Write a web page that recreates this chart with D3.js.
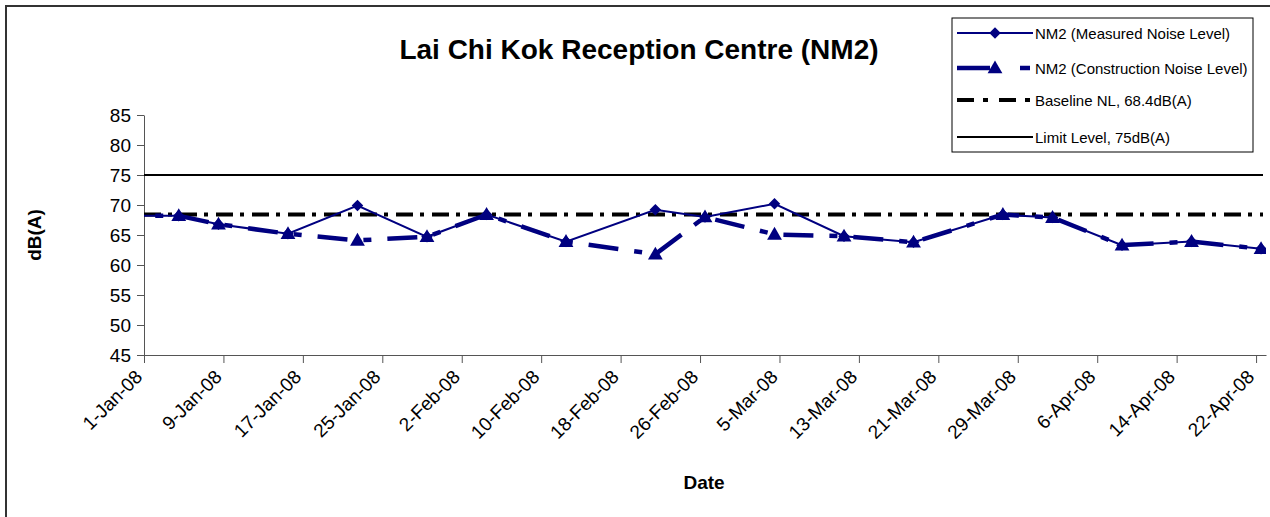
<!DOCTYPE html>
<html>
<head>
<meta charset="utf-8">
<script src="https://cdn.jsdelivr.net/npm/d3@7"></script>
<style>
  body { margin: 0; background: #fff; }
  svg { display: block; font-family: "Liberation Sans", Arial, sans-serif; }
  .axis path, .axis line { stroke: #555; }
  .axis text { fill: #000; }
</style>
</head>
<body>
<svg id="chart"></svg>
<script>
// sample dates (first one sits just before the axis start, as in the source sheet)
const sampleDates = ["28-Dec-07", "4-Jan-08", "8-Jan-08", "15-Jan-08", "22-Jan-08", "29-Jan-08",
  "4-Feb-08", "12-Feb-08", "21-Feb-08", "26-Feb-08", "4-Mar-08", "11-Mar-08", "18-Mar-08",
  "27-Mar-08", "1-Apr-08", "8-Apr-08", "15-Apr-08", "22-Apr-08"];
const measured = [68.2, 68.2, 66.8, 65.2, 69.9, 64.7, 68.4, 63.9, 69.2, 68.0, 70.2, 64.8, 63.8,
  68.4, 67.9, 63.3, 63.9, 62.7];
const construction = [68.2, 68.2, 66.8, 65.2, 64.1, 64.7, 68.4, 63.9, 61.8, 68.0, 65.1, 64.8, 63.8,
  68.4, 67.9, 63.3, 63.9, 62.7];
const baselineLevel = 68.4;
const limitLevel = 75;
const xTickLabels = ["1-Jan-08", "9-Jan-08", "17-Jan-08", "25-Jan-08", "2-Feb-08", "10-Feb-08",
  "18-Feb-08", "26-Feb-08", "5-Mar-08", "13-Mar-08", "21-Mar-08", "29-Mar-08", "6-Apr-08",
  "14-Apr-08", "22-Apr-08"];
const yTicks = [45, 50, 55, 60, 65, 70, 75, 80, 85];
const legendLabels = ["NM2 (Measured Noise Level)", "NM2 (Construction Noise Level)",
  "Baseline NL, 68.4dB(A)", "Limit Level, 75dB(A)"];

const parseDate = d3.timeParse("%d-%b-%y");
const fmtDate = d3.timeFormat("%-d-%b-%y");

const width = 1270, height = 517;
const margin = {top: 115, right: 4, bottom: 162, left: 144};
const navy = "#000080";

const svg = d3.select("#chart").attr("width", width).attr("height", height);

// outer chart frame (runs off the right / bottom of the picture)
svg.append("rect")
    .attr("x", 6).attr("y", 6)
    .attr("width", 1300).attr("height", 600)
    .attr("fill", "none").attr("stroke", "#333").attr("stroke-width", 2);

const innerW = width - margin.left - margin.right;
const innerH = height - margin.top - margin.bottom;

const tickDates = xTickLabels.map(parseDate);
const xScale = d3.scaleTime()
    .domain([tickDates[0], d3.timeDay.offset(tickDates[tickDates.length - 1], 1)])
    .range([0, innerW]);
const yScale = d3.scaleLinear().domain([45, 85]).range([innerH, 0]);

const chart = svg.append("g").attr("transform", `translate(${margin.left},${margin.top})`);

chart.append("clipPath").attr("id", "plot-clip")
  .append("rect").attr("width", innerW).attr("height", innerH + 10).attr("y", -10);

// Excel plots date points in the middle of each day slot
const xPos = d => xScale(d3.timeHour.offset(d.date, 12));

const rows = sampleDates.map((s, i) => ({date: parseDate(s), m: measured[i], c: construction[i]}));

// axes
const xAxis = d3.axisBottom(xScale)
    .tickValues(tickDates)
    .tickFormat(fmtDate)
    .tickSize(8)
    .tickSizeOuter(0);
const yAxis = d3.axisLeft(yScale)
    .tickValues(yTicks)
    .tickSize(7)
    .tickSizeOuter(0)
    .tickPadding(6);

const xAxisG = chart.append("g").attr("class", "axis x-axis")
    .attr("transform", `translate(0,${innerH})`)
    .call(xAxis);
xAxisG.selectAll("text")
    .style("font-size", "19px")
    .style("text-anchor", "end")
    .attr("x", 0).attr("y", 0)
    .attr("dy", null)
    .attr("transform", "translate(-1,23) rotate(-45)");

const yAxisG = chart.append("g").attr("class", "axis y-axis").call(yAxis);
yAxisG.selectAll("text").style("font-size", "19px");

// reference lines
const plot = chart.append("g").attr("clip-path", "url(#plot-clip)");

plot.append("line")
    .attr("x1", 0).attr("x2", innerW - 3)
    .attr("y1", yScale(limitLevel)).attr("y2", yScale(limitLevel))
    .attr("stroke", "#000").attr("stroke-width", 2);

plot.append("line")
    .attr("x1", 0).attr("x2", innerW - 3)
    .attr("y1", yScale(baselineLevel)).attr("y2", yScale(baselineLevel))
    .attr("stroke", "#000").attr("stroke-width", 4)
    .attr("stroke-dasharray", "17,7,4,8");

// measured series
plot.append("path")
    .datum(rows)
    .attr("fill", "none")
    .attr("stroke", navy)
    .attr("stroke-width", 2)
    .attr("d", d3.line().x(xPos).y(d => yScale(d.m)));

const diamond = d3.symbol().type(d3.symbolDiamond2).size(85);
plot.selectAll(".pt-m")
    .data(rows)
    .join("path")
    .attr("class", "pt-m")
    .attr("fill", navy)
    .attr("d", diamond)
    .attr("transform", d => `translate(${xPos(d)},${yScale(d.m)})`);

// construction series
plot.append("path")
    .datum(rows)
    .attr("fill", "none")
    .attr("stroke", navy)
    .attr("stroke-width", 4.5)
    .attr("stroke-dasharray", "30,16,8,16")
    .attr("d", d3.line().x(xPos).y(d => yScale(d.c)));

const tri = d3.symbol().type(d3.symbolTriangle).size(95);
plot.selectAll(".pt-c")
    .data(rows)
    .join("path")
    .attr("class", "pt-c")
    .attr("fill", navy)
    .attr("d", tri)
    .attr("transform", d => `translate(${xPos(d)},${yScale(d.c) + 1})`);

// titles
svg.append("text")
    .attr("x", 639).attr("y", 59)
    .attr("text-anchor", "middle")
    .style("font-size", "28px").style("font-weight", "bold")
    .text("Lai Chi Kok Reception Centre (NM2)");

svg.append("text")
    .attr("transform", `translate(41,${margin.top + yScale(65)}) rotate(-90)`)
    .attr("text-anchor", "middle")
    .style("font-size", "19px").style("font-weight", "bold")
    .text("dB(A)");

svg.append("text")
    .attr("x", 704).attr("y", 489)
    .attr("text-anchor", "middle")
    .style("font-size", "19px").style("font-weight", "bold")
    .text("Date");

// legend
const legend = svg.append("g").attr("transform", "translate(952,18)");
legend.append("rect")
    .attr("width", 301).attr("height", 134)
    .attr("fill", "#fff").attr("stroke", "#000").attr("stroke-width", 1);

const legendY = [15, 50, 82, 119];
const sampleX1 = 5, sampleX2 = 81;
const items = legend.selectAll(".item")
    .data(legendLabels)
    .join("g")
    .attr("class", "item")
    .attr("transform", (d, i) => `translate(0,${legendY[i]})`);

items.append("text")
    .attr("x", 83).attr("y", 5.5)
    .style("font-size", "15px")
    .text(d => d);

const legendStyles = [
  {stroke: navy, width: 2, dash: null},
  {stroke: navy, width: 4.5, dash: "33,30,10,20"},
  {stroke: "#000", width: 4, dash: "17,9,5,11"},
  {stroke: "#000", width: 2, dash: null}
];
items.append("line")
    .attr("x1", sampleX1).attr("x2", sampleX2)
    .attr("stroke", (d, i) => legendStyles[i].stroke)
    .attr("stroke-width", (d, i) => legendStyles[i].width)
    .attr("stroke-dasharray", (d, i) => legendStyles[i].dash);

items.filter((d, i) => i === 0).append("path")
    .attr("fill", navy).attr("d", diamond)
    .attr("transform", `translate(${(sampleX1 + sampleX2) / 2},0)`);
items.filter((d, i) => i === 1).append("path")
    .attr("fill", navy).attr("d", tri)
    .attr("transform", `translate(${(sampleX1 + sampleX2) / 2},1)`);
</script>
</body>
</html>
